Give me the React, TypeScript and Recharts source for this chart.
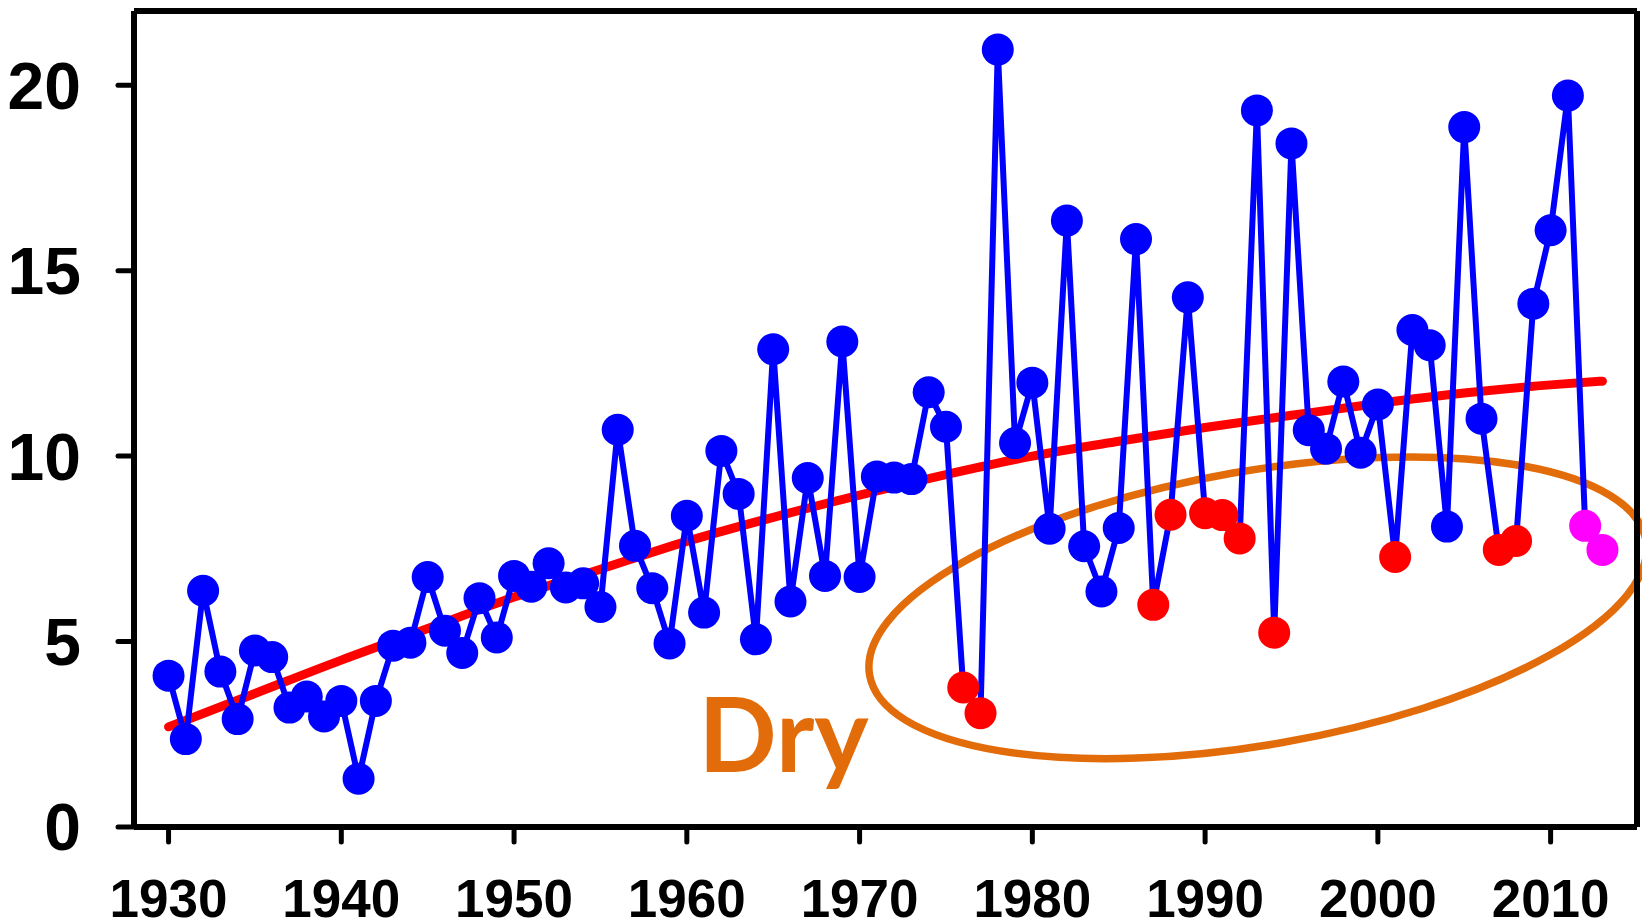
import React from "react";
import {
  LineChart,
  Line,
  XAxis,
  YAxis,
  ReferenceLine,
  ReferenceDot,
} from "recharts";

// one value per year, 1930 - 2013
const years = [
  1930, 1931, 1932, 1933, 1934, 1935, 1936, 1937, 1938, 1939,
  1940, 1941, 1942, 1943, 1944, 1945, 1946, 1947, 1948, 1949,
  1950, 1951, 1952, 1953, 1954, 1955, 1956, 1957, 1958, 1959,
  1960, 1961, 1962, 1963, 1964, 1965, 1966, 1967, 1968, 1969,
  1970, 1971, 1972, 1973, 1974, 1975, 1976, 1977, 1978, 1979,
  1980, 1981, 1982, 1983, 1984, 1985, 1986, 1987, 1988, 1989,
  1990, 1991, 1992, 1993, 1994, 1995, 1996, 1997, 1998, 1999,
  2000, 2001, 2002, 2003, 2004, 2005, 2006, 2007, 2008, 2009,
  2010, 2011, 2012, 2013,
];

const values = [
  4.08, 2.37, 6.37, 4.19, 2.91, 4.76, 4.58, 3.22, 3.52, 2.98,
  3.4, 1.3, 3.4, 4.89, 4.97, 6.74, 5.29, 4.69, 6.17, 5.11,
  6.77, 6.48, 7.11, 6.46, 6.57, 5.93, 10.71, 7.58, 6.44, 4.95,
  8.39, 5.78, 10.14, 8.98, 5.06, 12.88, 6.08, 9.41, 6.77, 13.09,
  6.74, 9.45, 9.42, 9.38, 11.72, 10.79, 3.76, 3.07, 20.96, 10.35,
  11.98, 8.04, 16.35, 7.57, 6.35, 8.06, 15.85, 5.99, 8.42, 14.28,
  8.46, 8.41, 7.78, 19.32, 5.24, 18.43, 10.7, 10.2, 12.01, 10.09,
  11.39, 7.28, 13.4, 12.99, 8.1, 18.87, 11.01, 7.47, 7.71, 14.11,
  16.09, 19.72, 8.12, 7.47,
];

// years marked as dry (red) and the latest years (magenta)
const dryYears = [1976, 1977, 1987, 1988, 1990, 1991, 1992, 1994, 2001, 2007, 2008];
const recentYears = [2012, 2013];

// smooth trend read every 5 years
const trendYears = [1930, 1935, 1940, 1945, 1950, 1955, 1960, 1965, 1970, 1975, 1980, 1985, 1990, 1995, 2000, 2005, 2010, 2013];
const trendValues = [2.7, 3.6, 4.5, 5.35, 6.2, 6.95, 7.7, 8.35, 8.95, 9.5, 10.0, 10.4, 10.77, 11.1, 11.42, 11.7, 11.92, 12.02];

const xTicks = [1930, 1940, 1950, 1960, 1970, 1980, 1990, 2000, 2010];
const yTicks = [0, 5, 10, 15, 20];

const data = years.map((year, i) => {
  const t = trendYears.indexOf(year);
  return {
    year,
    value: values[i],
    trend: t >= 0 ? trendValues[t] : null,
  };
});

const dotColor = (year: number) => {
  if (recentYears.includes(year)) return "#FF00FF";
  if (dryYears.includes(year)) return "#FF0000";
  return "#0000FF";
};

const renderDot = (p: any) => (
  <circle
    key={`dot-${p.index}`}
    cx={p.cx}
    cy={p.cy}
    r={16}
    fill={dotColor(p.payload.year)}
    stroke="none"
  />
);

const ORANGE = "#E36C0A";

const tickFont = {
  fontFamily: "'Liberation Sans', Arial, sans-serif",
  fontWeight: "bold",
  fill: "#000",
};

export default function App() {
  return (
    <div style={{ position: "absolute", left: 0, top: 0, background: "#fff" }}>
      <LineChart
        width={1642}
        height={922}
        data={data}
        margin={{ top: 11, right: 5, left: 0, bottom: 0 }}
      >
        <XAxis
          dataKey="year"
          type="number"
          domain={[1928, 2015]}
          ticks={xTicks}
          height={95}
          axisLine={{ stroke: "#000", strokeWidth: 6 }}
          tickLine={{ stroke: "#000", strokeWidth: 5, strokeLinecap: "round" }}
          tickSize={15}
          tickMargin={37}
          tick={{ ...tickFont, fontSize: 53 }}
        />
        <YAxis
          type="number"
          domain={[0, 22]}
          ticks={yTicks}
          width={134}
          axisLine={{ stroke: "#000", strokeWidth: 6 }}
          tickLine={{ stroke: "#000", strokeWidth: 5, strokeLinecap: "round" }}
          tickSize={16}
          tickMargin={37}
          tick={{ ...tickFont, fontSize: 66 }}
        />
        <ReferenceLine y={22} stroke="#000" strokeWidth={6} />
        <ReferenceLine x={2015} stroke="#000" strokeWidth={6} />
        <ReferenceDot
          x={1993.05}
          y={5.91}
          zIndex={50}
          shape={(p: any) => (
            <ellipse
              cx={p.cx}
              cy={p.cy}
              rx={394}
              ry={137}
              transform={`rotate(-9.85 ${p.cx} ${p.cy})`}
              fill="none"
              stroke={ORANGE}
              strokeWidth={7.5}
            />
          )}
        />
        <ReferenceDot
          x={1965.6}
          y={1.48}
          shape={(p: any) => (
            <text
              x={p.cx}
              y={p.cy}
              textAnchor="middle"
              fill={ORANGE}
              fontFamily="Lato, 'Open Sans', sans-serif"
              fontWeight="bold"
              fontSize={103}
            >
              Dry
            </text>
          )}
        />
        <Line
          dataKey="trend"
          type="monotone"
          connectNulls
          stroke="#FF0000"
          strokeWidth={9}
          strokeLinecap="round"
          dot={false}
          activeDot={false}
          isAnimationActive={false}
        />
        <Line
          dataKey="value"
          type="linear"
          stroke="#0000FF"
          strokeWidth={6}
          dot={renderDot}
          activeDot={false}
          isAnimationActive={false}
        />
      </LineChart>
    </div>
  );
}
